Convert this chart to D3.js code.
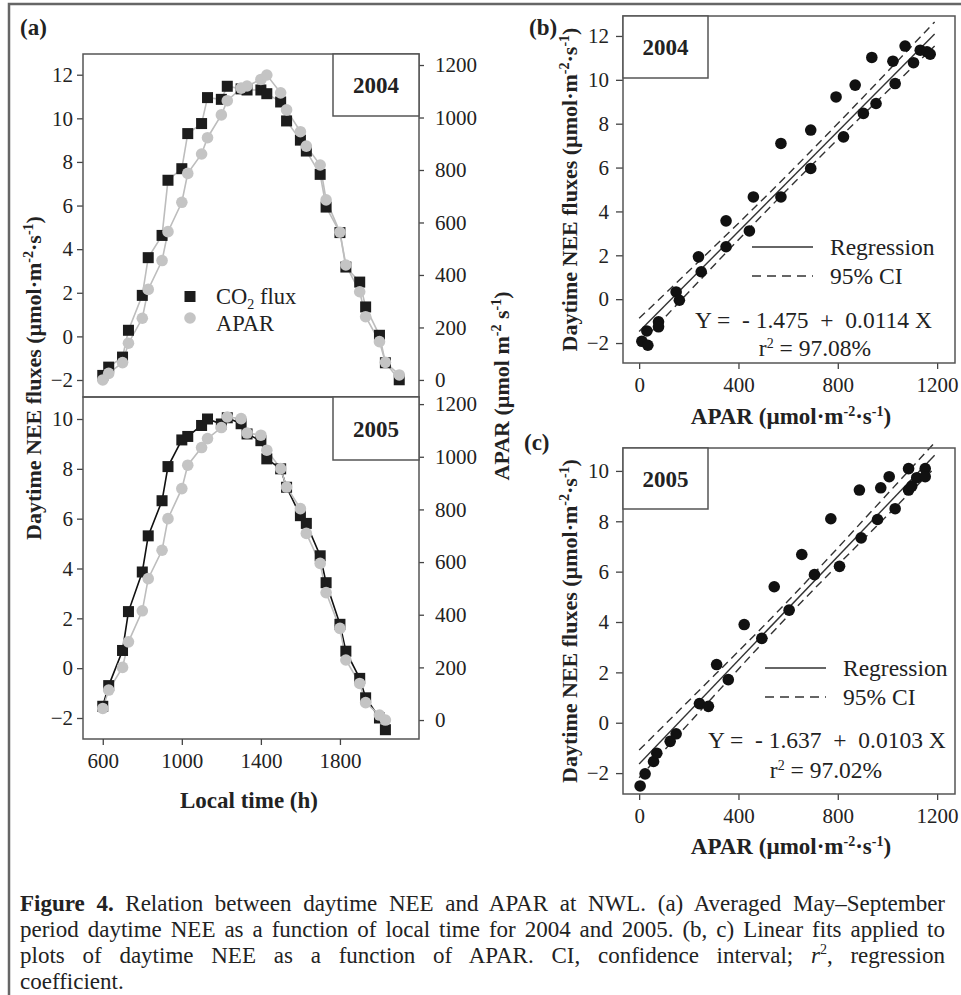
<!DOCTYPE html>
<html>
<head>
<meta charset="utf-8">
<script src="https://cdn.jsdelivr.net/npm/d3@7"></script>
<style>
  body { margin: 0; background: #fff; }
  svg text { font-family: "Liberation Serif", "Times New Roman", serif; fill: #222; }
</style>
</head>
<body>
<svg id="fig" width="961" height="995"></svg>
<script>
// 1: DATA
const time2004 = [600,630,700,730,800,830,900,930,1000,1030,1100,1130,1200,1230,1300,1330,1400,1430,1500,1530,1600,1630,1700,1730,1800,1830,1900,1930,2000,2030,2100];
const nee2004 = [-1.79,-1.41,-0.95,0.28,1.88,3.61,4.63,7.16,7.69,9.30,9.76,10.95,10.87,11.47,11.35,11.30,11.30,11.13,10.75,9.88,9.00,8.50,7.43,5.93,4.76,3.18,2.49,1.35,0.05,-1.21,-1.99];
const apar2004 = [0,25,66,140,235,345,455,565,677,787,861,923,1010,1064,1112,1120,1145,1162,1094,1029,946,891,819,686,563,438,336,241,146,67,19];

const time2005 = [600,630,700,730,800,830,900,930,1000,1030,1100,1130,1200,1230,1300,1330,1400,1430,1500,1530,1600,1630,1700,1730,1800,1830,1900,1930,2000,2030];
const nee2005 = [-1.53,-0.70,0.71,2.27,3.86,5.31,6.72,8.09,9.16,9.30,9.74,10.00,9.80,10.05,9.81,9.40,9.13,8.40,8.00,7.26,6.12,5.81,4.51,3.43,1.76,0.68,-0.41,-1.19,-2.00,-2.47];
const apar2005 = [44,114,200,297,415,537,645,765,879,968,1035,1069,1111,1151,1145,1090,1082,1025,955,885,803,709,595,484,348,228,139,66,19,0];

// scatter panels (b) 2004 and (c) 2005
const bApar = [11,35,31,78,78,149,162,239,250,350,350,444,460,571,571,691,691,793,823,870,903,937,954,1022,1031,1071,1105,1132,1159,1172];
const bNee  = [-1.92,-2.10,-1.45,-1.03,-1.26,0.33,-0.05,1.93,1.25,2.39,3.57,3.11,4.66,4.66,7.10,7.71,5.96,9.22,7.40,9.76,8.47,11.02,8.92,10.85,9.83,11.54,10.78,11.35,11.28,11.17];
const cApar = [4,24,58,71,125,149,243,279,312,359,423,494,544,604,655,706,772,807,887,894,960,973,1007,1031,1085,1085,1098,1118,1152,1152];
const cNee  = [-2.51,-2.03,-1.54,-1.21,-0.74,-0.44,0.76,0.65,2.31,1.71,3.90,3.35,5.40,4.47,6.68,5.88,8.10,6.21,9.24,7.34,8.07,9.33,9.77,8.50,10.09,9.24,9.40,9.73,10.09,9.77];

// regression results and 95% CI half-widths
const regIntercept = [-1.475, -1.637];
const regSlope = [0.0114, 0.0103];
const regR2 = ["97.08%", "97.02%"];
const fitApar = [0, 300, 600, 900, 1190];
const ciHalfB = [0.60, 0.42, 0.33, 0.40, 0.55];
const ciHalfC = [0.55, 0.40, 0.30, 0.38, 0.50];

const neeTicksA1 = [-2,0,2,4,6,8,10,12];
const neeTicksA2 = [-2,0,2,4,6,8,10];
const aparTicks = [0,200,400,600,800,1000,1200];
const timeTicks = [600,1000,1400,1800];
const scatterXTicks = [0,400,800,1200];

// 2: SETUP
const FONT = "'Liberation Serif', 'Times New Roman', serif";
const LBL = 23;      // size of labels and legend text
const svg = d3.select("#fig");
svg.append("rect").attr("width", 961).attr("height", 995).attr("fill", "#fff");

// outer frame (top + left edge)
svg.append("path")
    .attr("d", "M9,995 V4 H961")
    .attr("fill", "none")
    .attr("stroke", "#666")
    .attr("stroke-width", 2.5);

function styleAxis(g) {
    g.attr("font-size", 21).attr("font-family", FONT);
    g.select(".domain").remove();
    g.selectAll(".tick line").attr("stroke", "#444").attr("stroke-width", 1.3);
    g.selectAll(".tick text").attr("fill", "#222");
}

// appends "(µmol·m-2·s-1)" style units with superscripts
function addUnits(text, sep) {
    text.append("tspan").text(" (µmol" + sep + "m");
    text.append("tspan").attr("dy", -8).attr("font-size", 14).text("-2");
    text.append("tspan").attr("dy", 8).text(sep + "s");
    text.append("tspan").attr("dy", -8).attr("font-size", 14).text("-1");
    text.append("tspan").attr("dy", 8).text(")");
}

function panelLabel(x, y, s) {
    svg.append("text").attr("x", x).attr("y", y)
        .attr("font-size", LBL).attr("font-weight", "bold").text(s);
}

function yearBox(x, y, w, h, s) {
    svg.append("rect").attr("x", x).attr("y", y).attr("width", w).attr("height", h)
        .attr("fill", "#fff").attr("stroke", "#555").attr("stroke-width", 1.5);
    svg.append("text").attr("x", x + w / 2).attr("y", y + h / 2 + 8)
        .attr("text-anchor", "middle").attr("font-size", LBL).attr("font-weight", "bold").text(s);
}

const fmt = d3.format("d");

// 3: PANEL (a) - time series
const xTime = d3.scaleLinear().domain([500, 2200]).range([83, 419]);

const panelsA = [
    { year: "2004", top: 54, bottom: 397, neeDom: [-2.78, 12.95], aparDom: [-65, 1242],
      time: time2004, nee: nee2004, apar: apar2004, neeTicks: neeTicksA1, co2Stroke: "#bdbdbd" },
    { year: "2005", top: 397, bottom: 739, neeDom: [-2.843, 10.883], aparDom: [-72, 1227],
      time: time2005, nee: nee2005, apar: apar2005, neeTicks: neeTicksA2, co2Stroke: "#111" }
];

panelsA.forEach((p, k) => {
    const yNee = d3.scaleLinear().domain(p.neeDom).range([p.bottom, p.top]);
    const yApar = d3.scaleLinear().domain(p.aparDom).range([p.bottom, p.top]);

    svg.append("g").attr("transform", "translate(83,0)")
        .call(d3.axisLeft(yNee).tickValues(p.neeTicks).tickFormat(fmt).tickSize(6).tickPadding(4).tickSizeOuter(0))
        .call(styleAxis);
    svg.append("g").attr("transform", "translate(419,0)")
        .call(d3.axisRight(yApar).tickValues(aparTicks).tickFormat(fmt).tickSize(5).tickPadding(11).tickSizeOuter(0))
        .call(styleAxis);

    const idx = d3.range(p.time.length);
    const lineNee = d3.line().x(i => xTime(p.time[i])).y(i => yNee(p.nee[i]));
    const lineApar = d3.line().x(i => xTime(p.time[i])).y(i => yApar(p.apar[i]));

    svg.append("path").datum(idx).attr("d", lineNee)
        .attr("fill", "none").attr("stroke", p.co2Stroke).attr("stroke-width", 1.6);
    svg.append("path").datum(idx).attr("d", lineApar)
        .attr("fill", "none").attr("stroke", "#bdbdbd").attr("stroke-width", 1.6);

    svg.append("g").selectAll("rect").data(idx).join("rect")
        .attr("x", i => xTime(p.time[i]) - 5.5)
        .attr("y", i => yNee(p.nee[i]) - 5.5)
        .attr("width", 11).attr("height", 11)
        .attr("fill", "#1c1c1c");
    svg.append("g").selectAll("circle").data(idx).join("circle")
        .attr("cx", i => xTime(p.time[i]))
        .attr("cy", i => yApar(p.apar[i]))
        .attr("r", 5.8)
        .attr("fill", "#c4c4c4");

    svg.append("rect").attr("x", 83).attr("y", p.top)
        .attr("width", 336).attr("height", p.bottom - p.top)
        .attr("fill", "none").attr("stroke", "#555").attr("stroke-width", 1.5);

    yearBox(333, p.top, 86, k === 0 ? 62 : 63, p.year);

    if (k === 1) {
        svg.append("g").attr("transform", `translate(0,${p.bottom})`)
            .call(d3.axisBottom(xTime).tickValues(timeTicks).tickFormat(fmt).tickSize(6).tickPadding(8).tickSizeOuter(0))
            .call(styleAxis);
    }
});

// legend (a)
svg.append("rect").attr("x", 184.5).attr("y", 291).attr("width", 11).attr("height", 11).attr("fill", "#1c1c1c");
const lgCo2 = svg.append("text").attr("x", 216).attr("y", 304).attr("font-size", 22.5);
lgCo2.append("tspan").text("CO");
lgCo2.append("tspan").attr("dy", 5).attr("font-size", 14).text("2");
lgCo2.append("tspan").attr("dy", -5).text(" flux");
svg.append("circle").attr("cx", 190).attr("cy", 318).attr("r", 5.8).attr("fill", "#c4c4c4");
svg.append("text").attr("x", 216).attr("y", 331).attr("font-size", 22.5).text("APAR");

// axis titles (a)
svg.append("text").attr("x", 249).attr("y", 808)
    .attr("text-anchor", "middle").attr("font-size", LBL).attr("font-weight", "bold")
    .text("Local time (h)");
const tA = svg.append("text").attr("transform", "translate(41,378) rotate(-90)")
    .attr("text-anchor", "middle").attr("font-size", 22).attr("font-weight", "bold");
tA.append("tspan").text("Daytime NEE fluxes");
addUnits(tA, "·");
const tAr = svg.append("text").attr("transform", "translate(509,386) rotate(-90)")
    .attr("text-anchor", "middle").attr("font-size", 22).attr("font-weight", "bold");
tAr.append("tspan").text("APAR");
addUnits(tAr, " ");

panelLabel(20, 35, "(a)");

// 4: PANELS (b) and (c) - scatter with fit
const panelsS = [
    { year: "2004", label: "(b)", lx: 529, ly: 35, top: 16, bottom: 363, yDom: [-2.91, 12.91], yTicks: neeTicksA1,
      apar: bApar, nee: bNee, ci: ciHalfB, legX: 752, legY: 247, eqX: 695, eqY: 328, r2X: 815, r2Y: 356 },
    { year: "2005", label: "(c)", lx: 524, ly: 450, top: 448, bottom: 794, yDom: [-2.83, 10.91], yTicks: neeTicksA2,
      apar: cApar, nee: cNee, ci: ciHalfC, legX: 765, legY: 668, eqX: 708, eqY: 748, r2X: 826, r2Y: 778 }
];

panelsS.forEach((p, k) => {
    const x = d3.scaleLinear().domain([-65, 1272]).range([623, 955]);
    const y = d3.scaleLinear().domain(p.yDom).range([p.bottom, p.top]);

    svg.append("g").attr("transform", "translate(623,0)")
        .call(d3.axisLeft(y).tickValues(p.yTicks).tickFormat(fmt).tickSize(7).tickPadding(7).tickSizeOuter(0))
        .call(styleAxis);
    svg.append("g").attr("transform", `translate(0,${p.bottom})`)
        .call(d3.axisBottom(x).tickValues(scatterXTicks).tickFormat(fmt).tickSize(6).tickPadding(8).tickSizeOuter(0))
        .call(styleAxis);

    const a = regIntercept[k], b = regSlope[k];
    const fit = d3.line().x(v => x(v)).y(v => y(a + b * v));
    svg.append("path").datum([fitApar[0], fitApar[fitApar.length - 1]]).attr("d", fit)
        .attr("fill", "none").attr("stroke", "#333").attr("stroke-width", 1.4);

    [1, -1].forEach(sgn => {
        const band = d3.line().curve(d3.curveNatural)
            .x(i => x(fitApar[i]))
            .y(i => y(a + b * fitApar[i] + sgn * p.ci[i]));
        svg.append("path").datum(d3.range(fitApar.length)).attr("d", band)
            .attr("fill", "none").attr("stroke", "#333").attr("stroke-width", 1.4)
            .attr("stroke-dasharray", "8,5");
    });

    svg.append("g").selectAll("circle").data(d3.range(p.apar.length)).join("circle")
        .attr("cx", i => x(p.apar[i]))
        .attr("cy", i => y(p.nee[i]))
        .attr("r", 5.8)
        .attr("fill", "#111");

    svg.append("rect").attr("x", 623).attr("y", p.top)
        .attr("width", 332).attr("height", p.bottom - p.top)
        .attr("fill", "none").attr("stroke", "#555").attr("stroke-width", 1.5);

    yearBox(623, p.top, 85, k === 0 ? 62 : 61, p.year);

    // legend
    svg.append("line").attr("x1", p.legX).attr("x2", p.legX + 61)
        .attr("y1", p.legY).attr("y2", p.legY).attr("stroke", "#333").attr("stroke-width", 1.4);
    svg.append("line").attr("x1", p.legX).attr("x2", p.legX + 61)
        .attr("y1", p.legY + 29).attr("y2", p.legY + 29).attr("stroke", "#333").attr("stroke-width", 1.4)
        .attr("stroke-dasharray", "9,6");
    svg.append("text").attr("x", p.legX + 78).attr("y", p.legY + 8).attr("font-size", 23.5).text("Regression");
    svg.append("text").attr("x", p.legX + 78).attr("y", p.legY + 37).attr("font-size", 23.5).text("95% CI");

    svg.append("text").attr("x", p.eqX).attr("y", p.eqY).attr("font-size", 23.5)
        .style("white-space", "pre")
        .text(`Y =  - ${Math.abs(a).toFixed(3)}  +  ${b.toFixed(4)} X`);
    const r2 = svg.append("text").attr("x", p.r2X).attr("y", p.r2Y)
        .attr("text-anchor", "middle").attr("font-size", 23.5);
    r2.append("tspan").text("r");
    r2.append("tspan").attr("dy", -8).attr("font-size", 14).text("2");
    r2.append("tspan").attr("dy", 8).text(" = " + regR2[k]);

    const xt = svg.append("text").attr("x", 791).attr("y", k === 0 ? 424 : 854)
        .attr("text-anchor", "middle").attr("font-size", LBL).attr("font-weight", "bold");
    xt.append("tspan").text("APAR");
    addUnits(xt, "·");
    const yt = svg.append("text").attr("transform", `translate(577,${(p.top + p.bottom) / 2}) rotate(-90)`)
        .attr("text-anchor", "middle").attr("font-size", 22).attr("font-weight", "bold");
    yt.append("tspan").text("Daytime NEE fluxes");
    addUnits(yt, "·");

    panelLabel(p.lx, p.ly, p.label);
});

// 5: CAPTION (justified lines)
const captionLines = [
    [{ t: "Figure 4.", b: true }, { t: " Relation between daytime NEE and APAR at NWL. (a) Averaged May–September" }],
    [{ t: "period daytime NEE as a function of local time for 2004 and 2005. (b, c) Linear fits applied to" }],
    [{ t: "plots of daytime NEE as a function of APAR. CI, confidence interval; " }, { t: "r", i: true }, { t: "2", sup: true }, { t: ", regression" }],
    [{ t: "coefficient." }]
];
const capBase = [911, 937, 963, 989];
const capWidth = 925;

const capG = svg.append("g");
const capTexts = captionLines.map((parts, li) => {
    const txt = capG.append("text").attr("x", 0).attr("y", capBase[li]).attr("font-size", 23);
    let raised = false;
    parts.forEach(p => {
        const ts = txt.append("tspan").text(p.t);
        if (p.b) ts.attr("font-weight", "bold");
        if (p.i) ts.attr("font-style", "italic");
        if (p.sup) { ts.attr("dy", -9).attr("font-size", 14); raised = true; }
        else if (raised) { ts.attr("dy", 9); raised = false; }
    });
    return txt;
});
// line 2 has plain spacing in the original: use it to set the horizontal squeeze
const sx = Math.min(1, capWidth / capTexts[1].node().getComputedTextLength());
capG.attr("transform", `translate(20,0) scale(${sx},1)`);
capTexts.forEach((txt, li) => {
    if (li > 2) return;
    const full = captionLines[li].map(p => p.t).join("");
    const spaces = (full.match(/ /g) || []).length;
    const natural = txt.node().getComputedTextLength();
    txt.attr("word-spacing", (capWidth / sx - natural) / spaces);
});
</script>
</body>
</html>
